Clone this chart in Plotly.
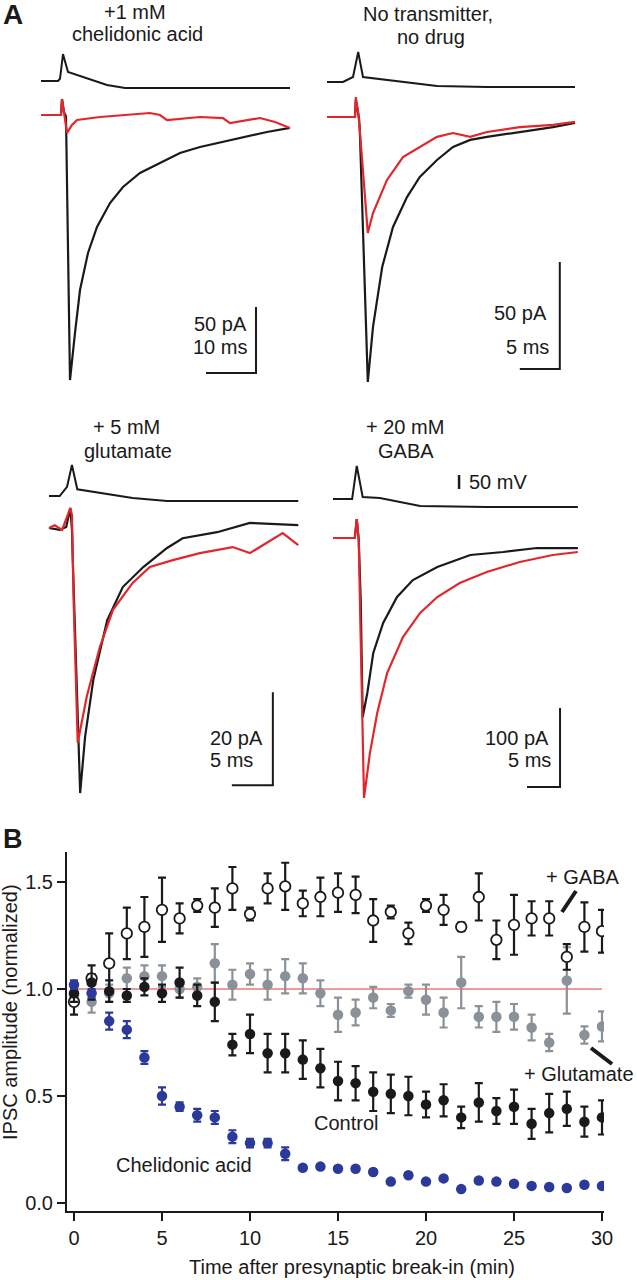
import plotly.graph_objects as go

W, H = 637, 1280
def PX(p): return p / W
def PY(p): return 1 - p / H

FONT = "Liberation Sans, Arial, Helvetica, sans-serif"
BLACK = "#1a1a1a"
RED = "#e3262b"
BLUE = "#2b3a9a"
GRAY = "#8a9198"
PINK = "#f09a9a"

# ---------------- Panel B data ----------------
minutes = list(range(31))
gaba_mean = [0.94, 1.05, 1.12, 1.26, 1.29, 1.37, 1.33, 1.39, 1.38, 1.47, 1.35, 1.47, 1.48, 1.40, 1.43, 1.45,
             1.44, 1.32, 1.36, 1.26, 1.39, 1.37, 1.29, 1.43, 1.23, 1.30, 1.33, 1.33, 1.15, 1.29, 1.27]
gaba_err = [0.06, 0.02, 0.14, 0.12, 0.14, 0.15, 0.07, 0.03, 0.09, 0.10, 0.03, 0.07, 0.11, 0.06, 0.09, 0.09,
            0.085, 0.10, 0.03, 0.05, 0.03, 0.07, 0.02, 0.11, 0.09, 0.14, 0.08, 0.08, 0.06, 0.115, 0.10]
glu_mean = [0.97, 0.94, 0.98, 1.05, 1.06, 1.06, 1.00, 1.01, 1.12, 1.02, 1.07, 1.02, 1.06, 1.05, 0.98, 0.88,
            0.89, 0.96, 0.90, 0.99, 0.95, 0.89, 1.03, 0.87, 0.87, 0.87, 0.82, 0.75, 1.04, 0.785, 0.825]
glu_err = [0.03, 0.05, 0.04, 0.05, 0.05, 0.05, 0.04, 0.04, 0.09, 0.07, 0.05, 0.07, 0.08, 0.07, 0.06, 0.08,
           0.06, 0.05, 0.03, 0.03, 0.07, 0.07, 0.12, 0.05, 0.07, 0.06, 0.06, 0.04, 0.155, 0.04, 0.07]
ctrl_mean = [0.98, 1.03, 0.99, 0.97, 1.01, 0.98, 1.03, 0.97, 0.94, 0.74, 0.79, 0.70, 0.70, 0.67, 0.63, 0.57,
             0.56, 0.52, 0.51, 0.50, 0.46, 0.48, 0.40, 0.47, 0.43, 0.45, 0.37, 0.42, 0.44, 0.38, 0.40]
ctrl_err = [0.04, 0.08, 0.05, 0.03, 0.04, 0.04, 0.07, 0.05, 0.09, 0.05, 0.09, 0.09, 0.09, 0.09, 0.09, 0.09,
            0.08, 0.09, 0.09, 0.09, 0.06, 0.075, 0.05, 0.09, 0.06, 0.08, 0.07, 0.09, 0.08, 0.07, 0.08]
chel_mean = [1.02, 0.98, 0.85, 0.81, 0.68, 0.50, 0.45, 0.41, 0.40, 0.31, 0.28, 0.28, 0.23, 0.165, 0.17, 0.16,
             0.16, 0.145, 0.10, 0.13, 0.10, 0.115, 0.065, 0.105, 0.10, 0.09, 0.08, 0.075, 0.07, 0.085, 0.08]
chel_err = [0.02, 0.02, 0.04, 0.04, 0.03, 0.04, 0.02, 0.03, 0.03, 0.03, 0.02, 0.02, 0.03, 0.01, 0.01, 0.01,
            0.01, 0.01, 0.01, 0.01, 0.01, 0.01, 0.01, 0.01, 0.01, 0.01, 0.01, 0.01, 0.01, 0.01, 0.01]
ref_x = [0, 30]
ref_y = [1.0, 1.0]
xtick_vals = [0, 5, 10, 15, 20, 25, 30]
ytick_vals = [0.0, 0.5, 1.0, 1.5]
ytick_text = ["0.0", "0.5", "1.0", "1.5"]

# ---------------- Panel A data (time ms, current pA, voltage mV rel.) ----------------
chel_ctrl_t = [0, 4.0, 4.2, 4.6, 5.0, 5.8, 6.8, 7.8, 9.4, 11.2, 13.8, 16.4, 19.8, 23.8, 27.8, 31.8, 38.4, 45.2, 49.8]
chel_ctrl_i = [0, 0, 12, 2, -1, -200.8, -165, -132.6, -104.5, -84.8, -66.7, -54.5, -43.9, -36.4, -28.8, -24.2, -18.9, -12.9, -9.8]
chel_drug_t = [0, 4.0, 4.2, 4.6, 5.2, 6.2, 7.2, 11.8, 21.8, 23.8, 25.2, 31.8, 36.4, 37.8, 43.8, 46.8, 49.8]
chel_drug_i = [0, 0, 12.1, 2.3, -13.6, -7.6, -3.8, -1.5, 1.5, 0, -3.8, -1.5, -2.3, -6.1, -2.3, -5.3, -9.8]
chel_v_t = [0, 3.4, 3.8, 4.4, 5.4, 7.8, 10.8, 13.2, 16.8, 49.8]
chel_v = [0, 0, 8, 96, 32, 18, 0, -14, -25, -25]

none_ctrl_t = [0, 3.5, 3.6, 4.0, 4.1, 5.1, 5.75, 6.9, 8.25, 10, 11.6, 13.75, 15.75, 17.9, 20, 24.1, 28.25, 31]
none_ctrl_i = [0, 0, 7.9, -0.5, -6.1, -123.8, -98.1, -70.1, -51.4, -37.4, -28, -20.1, -14, -10.7, -9.3, -7, -4.7, -2.8]
none_drug_t = [0, 3.5, 3.6, 3.9, 4.1, 5.1, 5.75, 7.5, 9.5, 11.6, 13.75, 15.75, 17.9, 20, 24.1, 28.25, 31]
none_drug_i = [0, 0, 9.3, 2.3, -6.1, -54.2, -44.9, -29.4, -18.7, -14, -9.3, -7.5, -9.3, -7, -4.7, -3.7, -2.3]
none_v_t = [0, 2, 3.25, 3.9, 4.5, 6.6, 9.5, 13.75, 20, 31]
none_v = [0, 0, 17.9, 107, 17.9, 10.7, 0, -14.3, -17.9, -17.9]

glu_ctrl_t = [0, 1.3, 2.1, 2.6, 2.8, 2.9, 3.8, 4.4, 5.4, 7.1, 9, 11.5, 14.4, 16.3, 20.5, 24.5, 30.4]
glu_ctrl_i = [0, -0.4, 0.2, 4.3, -0.4, -6.9, -57, -44.9, -32.7, -19.8, -12.7, -8.4, -4.3, -2.2, -0.9, 1.1, 0.6]
glu_drug_t = [0, 0.7, 1.6, 2.6, 2.8, 3.0, 3.5, 4.6, 6.2, 7.8, 10.2, 12.3, 15.1, 18.4, 22.4, 24.5, 28.5, 30.4]
glu_drug_i = [0, 0.6, -0.4, 4.3, 2.8, -15.5, -46.2, -36.3, -25.6, -17.6, -11.8, -8.4, -6.9, -5.4, -4.1, -5.4, -1.1, -3.7]
glu_v_t = [0, 1.3, 2.2, 2.8, 3.45, 6.2, 10.2, 14.4, 30.4]
glu_v = [0, 0, 33, 111, 24, 10.7, -7.1, -17.9, -17.9]

gaba_ctrl_t = [0, 3.3, 3.6, 3.9, 4.2, 4.5, 5.2, 6.1, 7.6, 9.7, 12.1, 15.8, 20.8, 25.8, 30.9, 37.1]
gaba_ctrl_i = [0, 0, 24, -2.5, -78.5, -226.6, -196.2, -145.6, -107.6, -74.7, -53.2, -36.7, -21.5, -17.7, -12.7, -12.7]
gaba_drug_t = [0, 3.3, 3.6, 3.9, 4.2, 4.7, 5.6, 6.7, 8.2, 10.6, 13.2, 15.8, 19.2, 23.3, 28.3, 33.3, 37.1]
gaba_drug_i = [0, 0, 24, -2.5, -129, -329, -272, -221.5, -170.9, -125.3, -94.9, -74.7, -57, -43, -30.4, -21.5, -17.7]
gaba_v_t = [0, 2.9, 3.6, 4.5, 7.1, 13.2, 23.3, 37.1]
gaba_v = [0, 0, 117.9, 7.1, 3.6, -25, -28.6, -28.6]

# scale bars: (pA, ms, corner time ms, corner current pA)
scale_pa = [50, 50, 20, 100]
scale_ms = [10, 5, 5, 5]
scale_corner_t = [43.0, 29.1, 27.3, 34.4]
scale_corner_i = [-195.5, -117.8, -55.3, -315.2]
mv_bar = 50          # mV
mv_bar_t = 19.1      # ms (panel 4)
mv_bar_v0 = 35.7     # mV

traces_A = [
    (chel_ctrl_t, chel_ctrl_i, chel_drug_t, chel_drug_i, chel_v_t, chel_v),
    (none_ctrl_t, none_ctrl_i, none_drug_t, none_drug_i, none_v_t, none_v),
    (glu_ctrl_t, glu_ctrl_i, glu_drug_t, glu_drug_i, glu_v_t, glu_v),
    (gaba_ctrl_t, gaba_ctrl_i, gaba_drug_t, gaba_drug_i, gaba_v_t, gaba_v),
]

# pixel placement of panel A axes
panelA = [
    dict(x0=41, kx=5.0, xbox=(30, 300), base=115, ky=1.32, ibox=(92, 395), vbase=81, vbox=(40, 92)),
    dict(x0=327, kx=8.0, xbox=(318, 600), base=117, ky=2.14, ibox=(92, 395), vbase=82, vbox=(40, 92)),
    dict(x0=49, kx=8.2, xbox=(30, 300), base=528, ky=4.65, ibox=(503, 800), vbase=496, vbox=(455, 503)),
    dict(x0=333, kx=6.6, xbox=(318, 600), base=538, ky=0.79, ibox=(512, 805), vbase=499, vbox=(455, 512)),
]
KV = 0.28

fig = go.Figure()
layout_axes = {}

for i, (p, tr) in enumerate(zip(panelA, traces_A)):
    xn = 2 + i
    yi = 2 + 2 * i
    yv = 3 + 2 * i
    xl, xr = p["xbox"]
    it, ib = p["ibox"]
    vt, vb = p["vbox"]
    layout_axes[f"xaxis{xn}"] = dict(domain=[PX(xl), PX(xr)],
                                     range=[(xl - p["x0"]) / p["kx"], (xr - p["x0"]) / p["kx"]],
                                     visible=False, anchor=f"y{yi}", fixedrange=True)
    layout_axes[f"yaxis{yi}"] = dict(domain=[PY(ib), PY(it)],
                                     range=[(p["base"] - ib) / p["ky"], (p["base"] - it) / p["ky"]],
                                     visible=False, anchor=f"x{xn}", fixedrange=True)
    layout_axes[f"yaxis{yv}"] = dict(domain=[PY(vb), PY(vt)],
                                     range=[(p["vbase"] - vb) / KV, (p["vbase"] - vt) / KV],
                                     visible=False, anchor=f"x{xn}", fixedrange=True)
    ct, ci, dt, di, vtt, vv = tr
    fig.add_trace(go.Scatter(x=ct, y=ci, mode="lines", line=dict(color=BLACK, width=2.2),
                             xaxis=f"x{xn}", yaxis=f"y{yi}", showlegend=False, hoverinfo="skip"))
    fig.add_trace(go.Scatter(x=dt, y=di, mode="lines", line=dict(color=RED, width=2.2),
                             xaxis=f"x{xn}", yaxis=f"y{yi}", showlegend=False, hoverinfo="skip"))
    fig.add_trace(go.Scatter(x=vtt, y=vv, mode="lines", line=dict(color=BLACK, width=2),
                             xaxis=f"x{xn}", yaxis=f"y{yv}", showlegend=False, hoverinfo="skip"))
    # scale bar
    tc, ic = scale_corner_t[i], scale_corner_i[i]
    fig.add_trace(go.Scatter(x=[tc - scale_ms[i], tc, tc], y=[ic, ic, ic + scale_pa[i]], mode="lines",
                             line=dict(color=BLACK, width=2), xaxis=f"x{xn}", yaxis=f"y{yi}",
                             showlegend=False, hoverinfo="skip"))
    if i == 3:
        fig.add_trace(go.Scatter(x=[mv_bar_t, mv_bar_t], y=[mv_bar_v0, mv_bar_v0 + mv_bar], mode="lines",
                                 line=dict(color=BLACK, width=2.5), xaxis=f"x{xn}", yaxis=f"y{yv}",
                                 showlegend=False, hoverinfo="skip"))

# ---------------- Panel B traces ----------------
fig.add_trace(go.Scatter(x=ref_x, y=ref_y, mode="lines", line=dict(color=PINK, width=2),
                         showlegend=False, hoverinfo="skip", xaxis="x", yaxis="y"))

def series(y, e, fill, edge, lw):
    return go.Scatter(x=minutes, y=y, mode="markers",
                      marker=dict(size=10.5, color=fill, line=dict(color=edge, width=lw)),
                      error_y=dict(type="data", array=e, color=edge, thickness=2.2, width=4),
                      showlegend=False, xaxis="x", yaxis="y")

fig.add_trace(series(glu_mean, glu_err, GRAY, GRAY, 0))
fig.add_trace(series(gaba_mean, gaba_err, "white", BLACK, 1.8))
fig.add_trace(series(ctrl_mean, ctrl_err, BLACK, BLACK, 0))
fig.add_trace(series(chel_mean, chel_err, BLUE, BLUE, 0))

# B axes
y0px = 1203.0
kB = 214.0
t0px = 74.0
kt = 17.6
bx_l, bx_r = 67, 604
by_t, by_b = 852, 1211
layout_axes["xaxis"] = dict(domain=[PX(bx_l), PX(bx_r)], range=[(bx_l - t0px) / kt, (bx_r - t0px) / kt],
                            tickvals=xtick_vals, ticks="outside", ticklen=8, tickwidth=2, tickcolor=BLACK,
                            showline=True, linewidth=2, linecolor=BLACK, showgrid=False, zeroline=False,
                            tickfont=dict(size=20, color=BLACK, family=FONT), anchor="y", automargin=False,
                            fixedrange=True)
layout_axes["yaxis"] = dict(domain=[PY(by_b), PY(by_t)], range=[(y0px - by_b) / kB, (y0px - by_t) / kB],
                            tickvals=ytick_vals, ticktext=ytick_text, ticks="outside", ticklen=8, tickwidth=2,
                            tickcolor=BLACK, showline=True, linewidth=2, linecolor=BLACK, showgrid=False,
                            zeroline=False, tickfont=dict(size=20, color=BLACK, family=FONT), anchor="x",
                            automargin=False, fixedrange=True)

# ---------------- annotations ----------------
def txt(s, x, y, size=20, xanchor="center", yanchor="middle", angle=0):
    return dict(text=s, x=PX(x), y=PY(y), xref="paper", yref="paper", showarrow=False,
                xanchor=xanchor, yanchor=yanchor, textangle=angle,
                font=dict(size=size, color=BLACK, family=FONT))

ann = [
    txt("<b>A</b>", 13, 14, size=28),
    txt("+1 mM", 135, 12),
    txt("chelidonic acid", 137, 34),
    txt("No transmitter,", 428, 14),
    txt("no drug", 431, 37),
    txt("50 pA", 249, 324, xanchor="right"),
    txt("10 ms", 249, 347, xanchor="right"),
    txt("50 pA", 549, 313, xanchor="right"),
    txt("5 ms", 551, 347, xanchor="right"),
    txt("+ 5 mM", 126, 427),
    txt("glutamate", 128, 451),
    txt("20 pA", 208, 738, xanchor="left"),
    txt("5 ms", 208, 760, xanchor="left"),
    txt("+ 20 mM", 405, 427),
    txt("GABA", 406, 451),
    txt("50 mV", 467, 482, xanchor="left"),
    txt("100 pA", 551, 738, xanchor="right"),
    txt("5 ms", 553, 760, xanchor="right"),
    txt("<b>B</b>", 13, 839, size=27),
    txt("+ GABA", 582, 877),
    txt("+ Glutamate", 636, 1074, xanchor="right"),
    txt("Control", 346, 1123),
    txt("Chelidonic acid", 184, 1165),
    txt("Time after presynaptic break-in (min)", 352, 1280, yanchor="bottom"),
    txt("IPSC amplitude (normalized)", 10, 1012, angle=-90),
]

shapes = [
    dict(type="line", xref="paper", yref="paper", x0=PX(562), y0=PY(912), x1=PX(576), y1=PY(891),
         line=dict(color=BLACK, width=4)),
    dict(type="line", xref="paper", yref="paper", x0=PX(591), y0=PY(1048), x1=PX(612), y1=PY(1064),
         line=dict(color=BLACK, width=4)),
]

fig.update_layout(width=W, height=H, margin=dict(l=0, r=0, t=0, b=0),
                  paper_bgcolor="white", plot_bgcolor="rgba(0,0,0,0)",
                  annotations=ann, shapes=shapes, showlegend=False,
                  font=dict(family=FONT, color=BLACK), **layout_axes)

fig.write_html("out.html", config={"displayModeBar": False, "staticPlot": True},
               post_script="document.body.style.margin='0';document.body.style.padding='0';"
                           "document.body.style.overflow='hidden';")
